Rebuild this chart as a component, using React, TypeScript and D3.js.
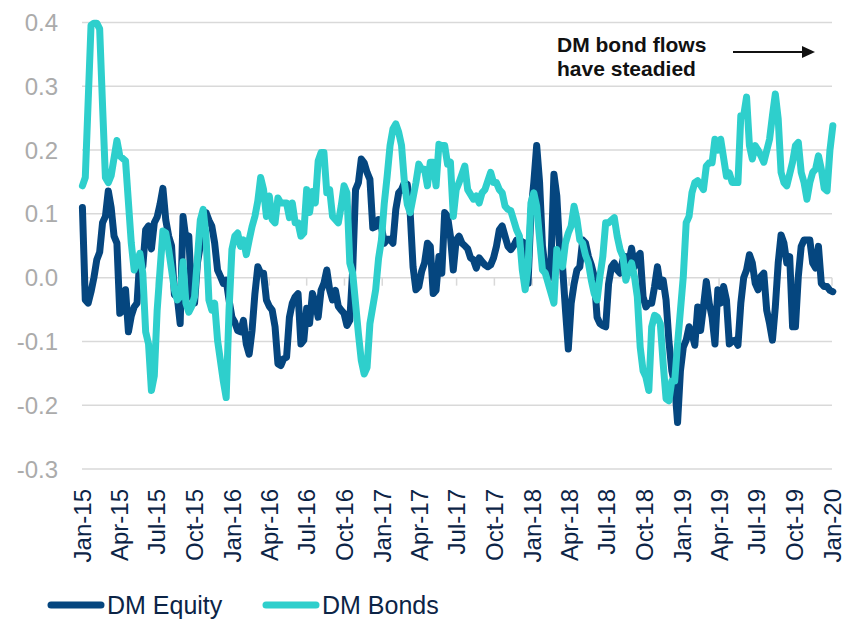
import React from 'react';
import * as d3 from 'd3';

// weekly flows, week 0 = 2 Jan 2015
const equityValues = [
  0.11, -0.035, -0.04, -0.022, 0.0, 0.028, 0.04, 0.086, 0.096, 0.136,
  0.11, 0.065, 0.054, -0.056, -0.051, -0.019, -0.085, -0.06, -0.046, -0.04,
  0.033, 0.017, 0.075, 0.081, 0.045, 0.086, 0.095, 0.115, 0.14, 0.09,
  0.065, 0.05, -0.027, -0.03, -0.072, 0.096, 0.06, 0.065, -0.03, -0.04,
  0.023, 0.05, 0.086, 0.102, 0.09, 0.081, 0.054, 0.012, 0.002, -0.009,
  -0.004, -0.035, -0.062, -0.07, -0.083, -0.085, -0.067, -0.104, -0.12, -0.083,
  -0.025, 0.017, 0.007, 0.007, -0.035, -0.045, -0.051, -0.077, -0.135, -0.138,
  -0.127, -0.125, -0.062, -0.04, -0.03, -0.025, -0.104, -0.098, -0.048, -0.072,
  -0.025, -0.04, -0.062, -0.02, -0.009, 0.012, -0.019, -0.035, -0.02, -0.045,
  -0.051, -0.056, -0.075, -0.067, 0.012, 0.138, 0.149, 0.186, 0.18, 0.165,
  0.154, 0.078, 0.08, 0.091, 0.08, 0.054, 0.06, 0.06, 0.054, 0.107,
  0.133, 0.138, 0.149, 0.146, 0.102, 0.017, -0.019, -0.014, 0.01, 0.023,
  0.054, 0.049, -0.025, -0.02, 0.033, 0.007, 0.102, 0.096, 0.065, 0.012,
  0.059, 0.065, 0.054, 0.05, 0.045, 0.031, 0.028, 0.015, 0.031, 0.025,
  0.02, 0.017, 0.02, 0.031, 0.049, 0.075, 0.081, 0.065, 0.049, 0.044,
  0.05, 0.059, 0.059, 0.056, 0.054, -0.009, 0.102, 0.149, 0.207, 0.15,
  0.05, 0.012, -0.004, 0.03, 0.162, 0.128, 0.044, 0.017, -0.05, -0.112,
  -0.04, -0.01, 0.012, 0.017, 0.059, 0.054, 0.033, 0.02, 0.002, -0.062,
  -0.072, -0.075, -0.077, -0.01, 0.017, 0.023, 0.012, 0.007, 0.028, 0.033,
  0.023, 0.046, 0.017, 0.033, 0.038, -0.03, -0.046, -0.04, -0.04, -0.014,
  0.017, -0.014, -0.004, -0.035, -0.1, -0.146, -0.167, -0.227, -0.146, -0.109,
  -0.098, -0.077, -0.088, -0.106, -0.046, -0.083, -0.046, -0.006, -0.04, -0.062,
  -0.104, -0.019, -0.04, -0.014, -0.035, -0.104, -0.1, -0.098, -0.106, -0.04,
  0.0, 0.012, 0.036, 0.023, -0.009, -0.019, 0.002, 0.007, -0.051, -0.072,
  -0.098, -0.046, 0.023, 0.067, 0.054, 0.023, 0.033, -0.077, -0.077, 0.002,
  0.049, 0.059, 0.059, 0.059, 0.023, 0.015, 0.049, -0.009, -0.014, -0.014,
  -0.02, -0.022,
];

// [week, value]
const bondPoints: [number, number][] = [
  [0, 0.144], [1, 0.157], [3, 0.396], [4, 0.399], [5, 0.399], [6, 0.39], [7, 0.27], [8, 0.157],
  [9, 0.149], [10, 0.16], [12, 0.215], [13, 0.191], [15, 0.183], [17, 0.054], [18, 0.012],
  [20, 0.038], [21, 0.007], [22, -0.085], [23, -0.104], [24, -0.177], [25, -0.154], [26, -0.051],
  [27, 0.012], [28, 0.073], [29, 0.07], [30, 0.044], [32, -0.019], [33, -0.035], [34, -0.03],
  [35, 0.025], [36, -0.04], [37, -0.054], [38, -0.045], [39, -0.03], [40, 0.03], [41, 0.09],
  [42, 0.107], [43, 0.065], [44, -0.035], [45, -0.051], [46, -0.04], [47, -0.098], [49, -0.162],
  [50, -0.188], [51, -0.051], [52, 0.044], [53, 0.065], [54, 0.07], [55, 0.049], [56, 0.059],
  [57, 0.036], [58, 0.059], [59, 0.08], [60, 0.096], [61, 0.12], [62, 0.157], [63, 0.138],
  [64, 0.096], [65, 0.128], [66, 0.091], [67, 0.086], [68, 0.125], [69, 0.117], [70, 0.117],
  [71, 0.117], [72, 0.094], [73, 0.117], [74, 0.086], [75, 0.086], [76, 0.065], [77, 0.07],
  [78, 0.138], [79, 0.102], [80, 0.135], [81, 0.117], [82, 0.183], [83, 0.196], [84, 0.196],
  [85, 0.133], [86, 0.138], [87, 0.096], [89, 0.086], [90, 0.112], [91, 0.144], [92, 0.133],
  [93, 0.023], [94, 0.007], [96, -0.088], [97, -0.13], [98, -0.151], [99, -0.141], [100, -0.072],
  [102, -0.019], [103, 0.03], [104, 0.059], [105, 0.117], [106, 0.159], [107, 0.207], [108, 0.233],
  [109, 0.241], [110, 0.228], [111, 0.207], [112, 0.149], [113, 0.115], [114, 0.102], [116, 0.149],
  [117, 0.178], [118, 0.17], [119, 0.17], [120, 0.144], [121, 0.181], [122, 0.181], [123, 0.144],
  [124, 0.209], [125, 0.207], [126, 0.207], [127, 0.178], [128, 0.181], [129, 0.096], [130, 0.138],
  [131, 0.149], [133, 0.175], [134, 0.138], [136, 0.123], [137, 0.128], [138, 0.117], [139, 0.133],
  [140, 0.138], [142, 0.165], [143, 0.149], [144, 0.149], [145, 0.138], [146, 0.133], [147, 0.112],
  [148, 0.107], [149, 0.105], [150, 0.09], [151, 0.075], [152, 0.065], [153, 0.012], [154, -0.019],
  [155, 0.017], [156, 0.117], [157, 0.133], [158, 0.112], [160, 0.012], [161, 0.007], [162, -0.009],
  [164, -0.04], [165, 0.044], [166, 0.023], [167, 0.017], [168, 0.054], [169, 0.07], [170, 0.081],
  [171, 0.112], [172, 0.091], [173, 0.059], [174, 0.054], [175, 0.035], [176, 0.023], [177, -0.004],
  [178, -0.025], [179, -0.035], [180, 0.002], [181, 0.033], [182, 0.086], [183, 0.086], [184, 0.09],
  [185, 0.094], [186, 0.065], [187, 0.044], [188, 0.033], [189, -0.004], [190, 0.012], [191, 0.023],
  [192, 0.002], [193, -0.03], [194, -0.109], [195, -0.146], [196, -0.156], [197, -0.177], [198, -0.077],
  [199, -0.059], [200, -0.062], [201, -0.072], [202, -0.135], [203, -0.19], [204, -0.193], [205, -0.162],
  [206, -0.162], [207, -0.104], [208, -0.051], [209, 0.002], [210, 0.086], [211, 0.096], [212, 0.133],
  [213, 0.149], [214, 0.152], [215, 0.145], [216, 0.138], [217, 0.175], [218, 0.18], [219, 0.18],
  [220, 0.217], [221, 0.2], [222, 0.217], [224, 0.159], [225, 0.164], [226, 0.149], [228, 0.149],
  [229, 0.254], [230, 0.254], [231, 0.283], [232, 0.207], [233, 0.186], [234, 0.207], [235, 0.2],
  [236, 0.191], [237, 0.181], [239, 0.217], [240, 0.254], [241, 0.288], [242, 0.249], [243, 0.165],
  [244, 0.149], [245, 0.144], [247, 0.181], [248, 0.207], [249, 0.212], [250, 0.165], [251, 0.149],
  [252, 0.123], [253, 0.149], [254, 0.165], [255, 0.17], [256, 0.191], [257, 0.17], [258, 0.14],
  [259, 0.136], [260, 0.2], [261, 0.238],
];

const yTicks = [0.4, 0.3, 0.2, 0.1, 0.0, -0.1, -0.2, -0.3];
const seriesNames = ['DM Equity', 'DM Bonds'];
const noteLines = ['DM bond flows', 'have steadied'];

const NAVY = '#05467f';
const TEAL = '#2ecfcc';
const GRID = '#d9d9d9';

const weekDate = (w: number) => new Date(2015, 0, 2 + w * 7);

export default function App() {
  const x = d3.scaleTime()
    .domain([new Date(2015, 0, 1), new Date(2020, 0, 1)])
    .range([82, 832]);
  const y = d3.scaleLinear().domain([-0.3, 0.4]).range([469, 22.5]);

  const line = d3.line<[number, number]>()
    .x(d => x(weekDate(d[0])))
    .y(d => y(d[1]));

  const equityPts: [number, number][] = equityValues.map((v, i) => [i, v]);
  const xTicks = d3.timeMonth.range(new Date(2015, 0, 1), new Date(2020, 0, 2), 3);
  const fmt = d3.timeFormat('%b-%y');

  return (
    <svg width={846} height={620} style={{ position: 'absolute', left: 0, top: 0, background: '#fff' }}
      fontFamily="'Liberation Sans', Arial, sans-serif">
      {yTicks.map(t => (
        <g key={t}>
          <line x1={82} x2={832} y1={y(t)} y2={y(t)} stroke={GRID} strokeWidth={1.5} />
          <text x={58} y={y(t)} dy="0.36em" textAnchor="end" fontSize={24} fill="#ababab">
            {t.toFixed(1)}
          </text>
        </g>
      ))}
      {xTicks.map((d, i) => (
        <g key={i}>
          <line x1={x(d)} x2={x(d)} y1={y(0)} y2={y(0) + 8} stroke={GRID} strokeWidth={1.5} />
          <text transform={`translate(${x(d)},489) rotate(-90)`} dy="0.36em" textAnchor="end"
            fontSize={24} fill="#0c2446">
            {fmt(d)}
          </text>
        </g>
      ))}

      <path d={line(equityPts) ?? ''} fill="none" stroke={NAVY} strokeWidth={7}
        strokeLinejoin="round" strokeLinecap="round" />
      <path d={line(bondPoints) ?? ''} fill="none" stroke={TEAL} strokeWidth={7}
        strokeLinejoin="round" strokeLinecap="round" />

      {noteLines.map((s, i) => (
        <text key={s} x={557} y={52 + i * 24} fontSize={21} fontWeight="bold" fill="#111">{s}</text>
      ))}
      <line x1={733} x2={804} y1={52} y2={52} stroke="#111" strokeWidth={2} />
      <path d="M802,46 L815,52 L802,58 Z" fill="#111" />

      {seriesNames.map((name, i) => (
        <g key={name} transform={`translate(${i === 0 ? 48 : 263},605)`}>
          <line x1={3} x2={53} y1={0} y2={0} stroke={i === 0 ? NAVY : TEAL} strokeWidth={7}
            strokeLinecap="round" />
          <text x={59} y={0} dy="0.36em" fontSize={25} fill="#0c2446">{name}</text>
        </g>
      ))}
    </svg>
  );
}
